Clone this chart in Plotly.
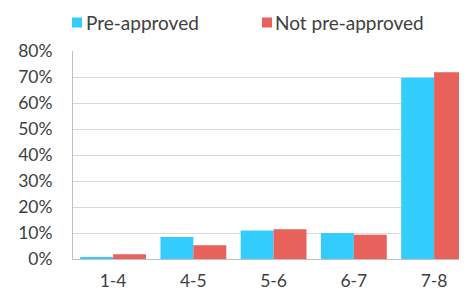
import plotly.graph_objects as go

categories = ["1-4", "4-5", "5-6", "6-7", "7-8"]
pre_approved = [0.004, 0.085, 0.110, 0.100, 0.697]
not_pre_approved = [0.018, 0.053, 0.114, 0.093, 0.718]
tick_vals = [0, 0.1, 0.2, 0.3, 0.4, 0.5, 0.6, 0.7, 0.8]
tick_text = ["0%", "10%", "20%", "30%", "40%", "50%", "60%", "70%", "80%"]
series_names = ["Pre-approved", "Not pre-approved"]
series_colors = ["#33CCFF", "#E8615B"]

OFF = 8  # page body margin offset
W, H = 467 - OFF, 292 - OFF
L, T = 73 - OFF, 51 - OFF
B = H - (259 - OFF)
R = 0
pw, ph = W - L - R, H - T - B

def px_x(x):  # page pixel -> paper x
    return (x - OFF - L) / pw

def px_y(y):  # page pixel -> paper y
    return (H - B - (y - OFF)) / ph

fig = go.Figure()
for name, vals, col in zip(series_names, [pre_approved, not_pre_approved], series_colors):
    fig.add_trace(go.Bar(name=name, x=categories, y=vals,
                         marker=dict(color=col, line=dict(width=0))))

# legend drawn as swatches + labels
legend_items = [(72, 84), (262, 273)]
for (sx, tx), name, col in zip(legend_items, series_names, series_colors):
    fig.add_shape(type="rect", xref="paper", yref="paper",
                  x0=px_x(sx), x1=px_x(sx + 10), y0=px_y(27.5), y1=px_y(17.5),
                  fillcolor=col, line=dict(width=0))
    fig.add_annotation(text=name, xref="paper", yref="paper",
                       x=px_x(tx), y=px_y(22), xanchor="left", yanchor="middle",
                       showarrow=False, font=dict(size=19, color="#404040"))

fig.update_layout(
    width=W, height=H,
    margin=dict(l=L, r=R, t=T, b=B, autoexpand=False),
    paper_bgcolor="white", plot_bgcolor="white",
    font=dict(family="Lato", size=17.5, color="#404040"),
    barmode="group", bargap=0.18, bargroupgap=0,
    showlegend=False,
)
fig.update_xaxes(range=[-0.5, 4.41], showline=True, linecolor="#BFBFBF", linewidth=1,
                 ticks="", showgrid=False, tickfont=dict(size=17.5),
                 ticklabelstandoff=6)
fig.update_yaxes(range=[0, 0.8], tickvals=tick_vals, ticktext=tick_text,
                 showgrid=True, gridcolor="#D9D9D9", gridwidth=1,
                 showline=True, linecolor="#BFBFBF", linewidth=1,
                 zeroline=False, ticks="", tickfont=dict(size=17.5),
                 ticklabelstandoff=16)

fig.write_html("out.html")
